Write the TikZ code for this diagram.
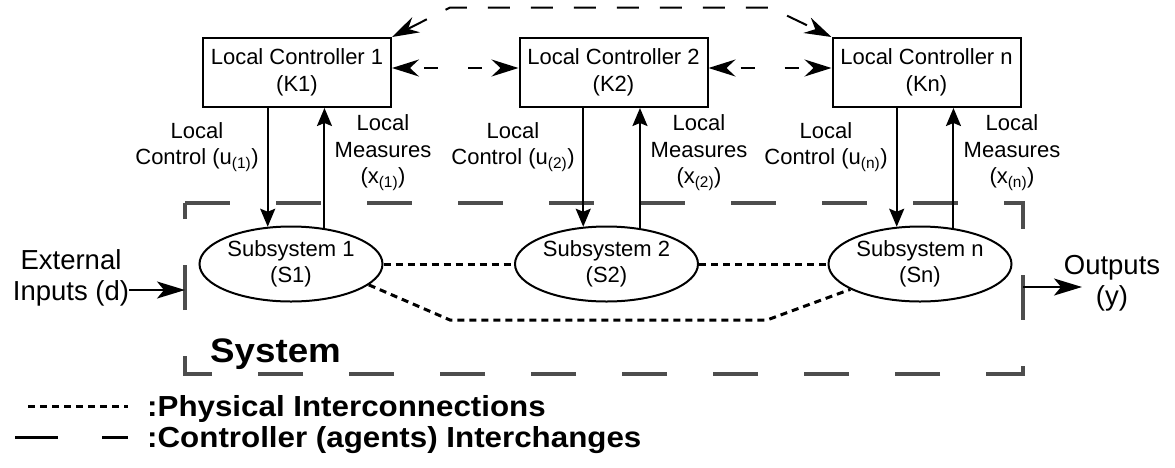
\documentclass[tikz,border=0pt]{standalone}
\usepackage{fontspec}
\setmainfont{Liberation Sans}
\newfontfamily\legendfont[FakeStretch=1.08]{Liberation Sans}
\usetikzlibrary{shapes.geometric,arrows.meta}
\definecolor{sysgray}{HTML}{4D4D4D}

\begin{document}
\begin{tikzpicture}[x=1pt,y=-1pt,>={Stealth[length=18pt,width=15pt,inset=3pt]},
        font=\fontsize{22}{26.4}\selectfont,
        ctrl/.style={draw,line width=2pt,minimum width=188pt,minimum height=69pt,inner sep=0pt,align=center},
        sub/.style={draw,ellipse,line width=2pt,minimum width=183pt,minimum height=75pt,inner sep=0pt,align=center},
        sig/.style={->,line width=2pt},
        agent/.style={{Stealth[length=27pt,width=17pt,inset=9pt]}-{Stealth[length=27pt,width=17pt,inset=9pt]},
            line width=2pt,dash pattern=on 22pt off 21pt},
        agentH/.style={agent,dash pattern=on 14pt off 30pt,dash phase=29pt},
        phys/.style={line width=3pt,dash pattern=on 7pt off 5pt},
        io/.style={-{Stealth[length=28pt,width=17pt,inset=7pt]},line width=2pt},
        sysbox/.style={draw=sysgray,line width=3.3pt,dash pattern=on 45pt off 46pt},
        lbl/.style={align=center,inner sep=0pt},
        big/.style={align=center,inner sep=0pt,font=\fontsize{27.5}{31}\selectfont},
        legend/.style={anchor=base west,inner sep=0pt,font=\legendfont\bfseries\fontsize{29}{32}\selectfont}]
    \useasboundingbox (0,0) rectangle (1175,467);

    % local controllers
    \node[ctrl] (K1) at (297,72.5) {Local Controller 1\\(K1)};
    \node[ctrl] (K2) at (613.5,72.5) {Local Controller 2\\(K2)};
    \node[ctrl] (Kn) at (926.5,72.5) {Local Controller n\\(Kn)};

    % subsystems
    \node[sub] (S1) at (291,264) {Subsystem 1\\(S1)};
    \node[sub] (S2) at (606.5,264) {Subsystem 2\\(S2)};
    \node[sub] (Sn) at (920,264) {Subsystem n\\(Sn)};

    % system frame, starts top left and runs clockwise
    \draw[sysbox] (185,203) -- (1023,203) -- (1023,374) -- (185,374) -- cycle;
    \node[anchor=base west,inner sep=0pt,font=\legendfont\bfseries\fontsize{34}{38}\selectfont] (sysname) at (210,362) {System};

    % agents talk to each other
    \draw[agentH] ([yshift=4.5pt]K1.east) -- ([yshift=4.5pt]K2.west);
    \draw[agentH] ([yshift=4.5pt]K2.east) -- ([yshift=4.5pt]Kn.west);
    \draw[agent] (K1.north east) -- (450,7.5) -- (770,7.5) -- (Kn.north west);

    % control down, measures up
    \draw[sig] (K1.south -| S1.122) -- (S1.122);
    \draw[sig] (S1.47) -- (S1.47 |- K1.south);
    \draw[sig] (K2.south -| S2.122) -- (S2.122);
    \draw[sig] (S2.47) -- (S2.47 |- K2.south);
    \draw[sig] (Kn.south -| Sn.122) -- (Sn.122);
    \draw[sig] (Sn.47) -- (Sn.47 |- Kn.south);

    \node[lbl] (u1) at (197,147) {Local\\Control (u\textsubscript{(1)})};
    \node[lbl] (x1) at (383,153) {Local\\Measures\\(x\textsubscript{(1)})};
    \node[lbl] (u2) at (513,147) {Local\\Control (u\textsubscript{(2)})};
    \node[lbl] (x2) at (699,153) {Local\\Measures\\(x\textsubscript{(2)})};
    \node[lbl] (un) at (826,147) {Local\\Control (u\textsubscript{(n)})};
    \node[lbl] (xn) at (1012,153) {Local\\Measures\\(x\textsubscript{(n)})};

    % physical links
    \draw[phys] (S1) -- (S2);
    \draw[phys] (S2) -- (Sn);
    \draw[phys] (S1.-15) -- (450,320) -- (767,320) -- (Sn.200);

    % in and out
    \node[big] (ext) at (71,278) {External\\Inputs (d)};
    \coordinate (din) at (185,290);
    \draw[io] (ext.east |- din) -- (din);
    \node[big] (out) at (1112,283) {Outputs\\(y)};
    \coordinate (dout) at (1023,287);
    \coordinate (yend) at (1082,287);
    \draw[io] (dout) -- (yend);

    % legend
    \draw[phys] (28,406) -- (128,406);
    \draw[line width=3pt,dash pattern=on 43pt off 44pt] (15,437) -- (128,437);
    \node[legend] (lphys) at (147,416) {:Physical Interconnections};
    \node[legend] (lagent) at (147,447) {:Controller (agents) Interchanges};

\end{tikzpicture}
\end{document}
